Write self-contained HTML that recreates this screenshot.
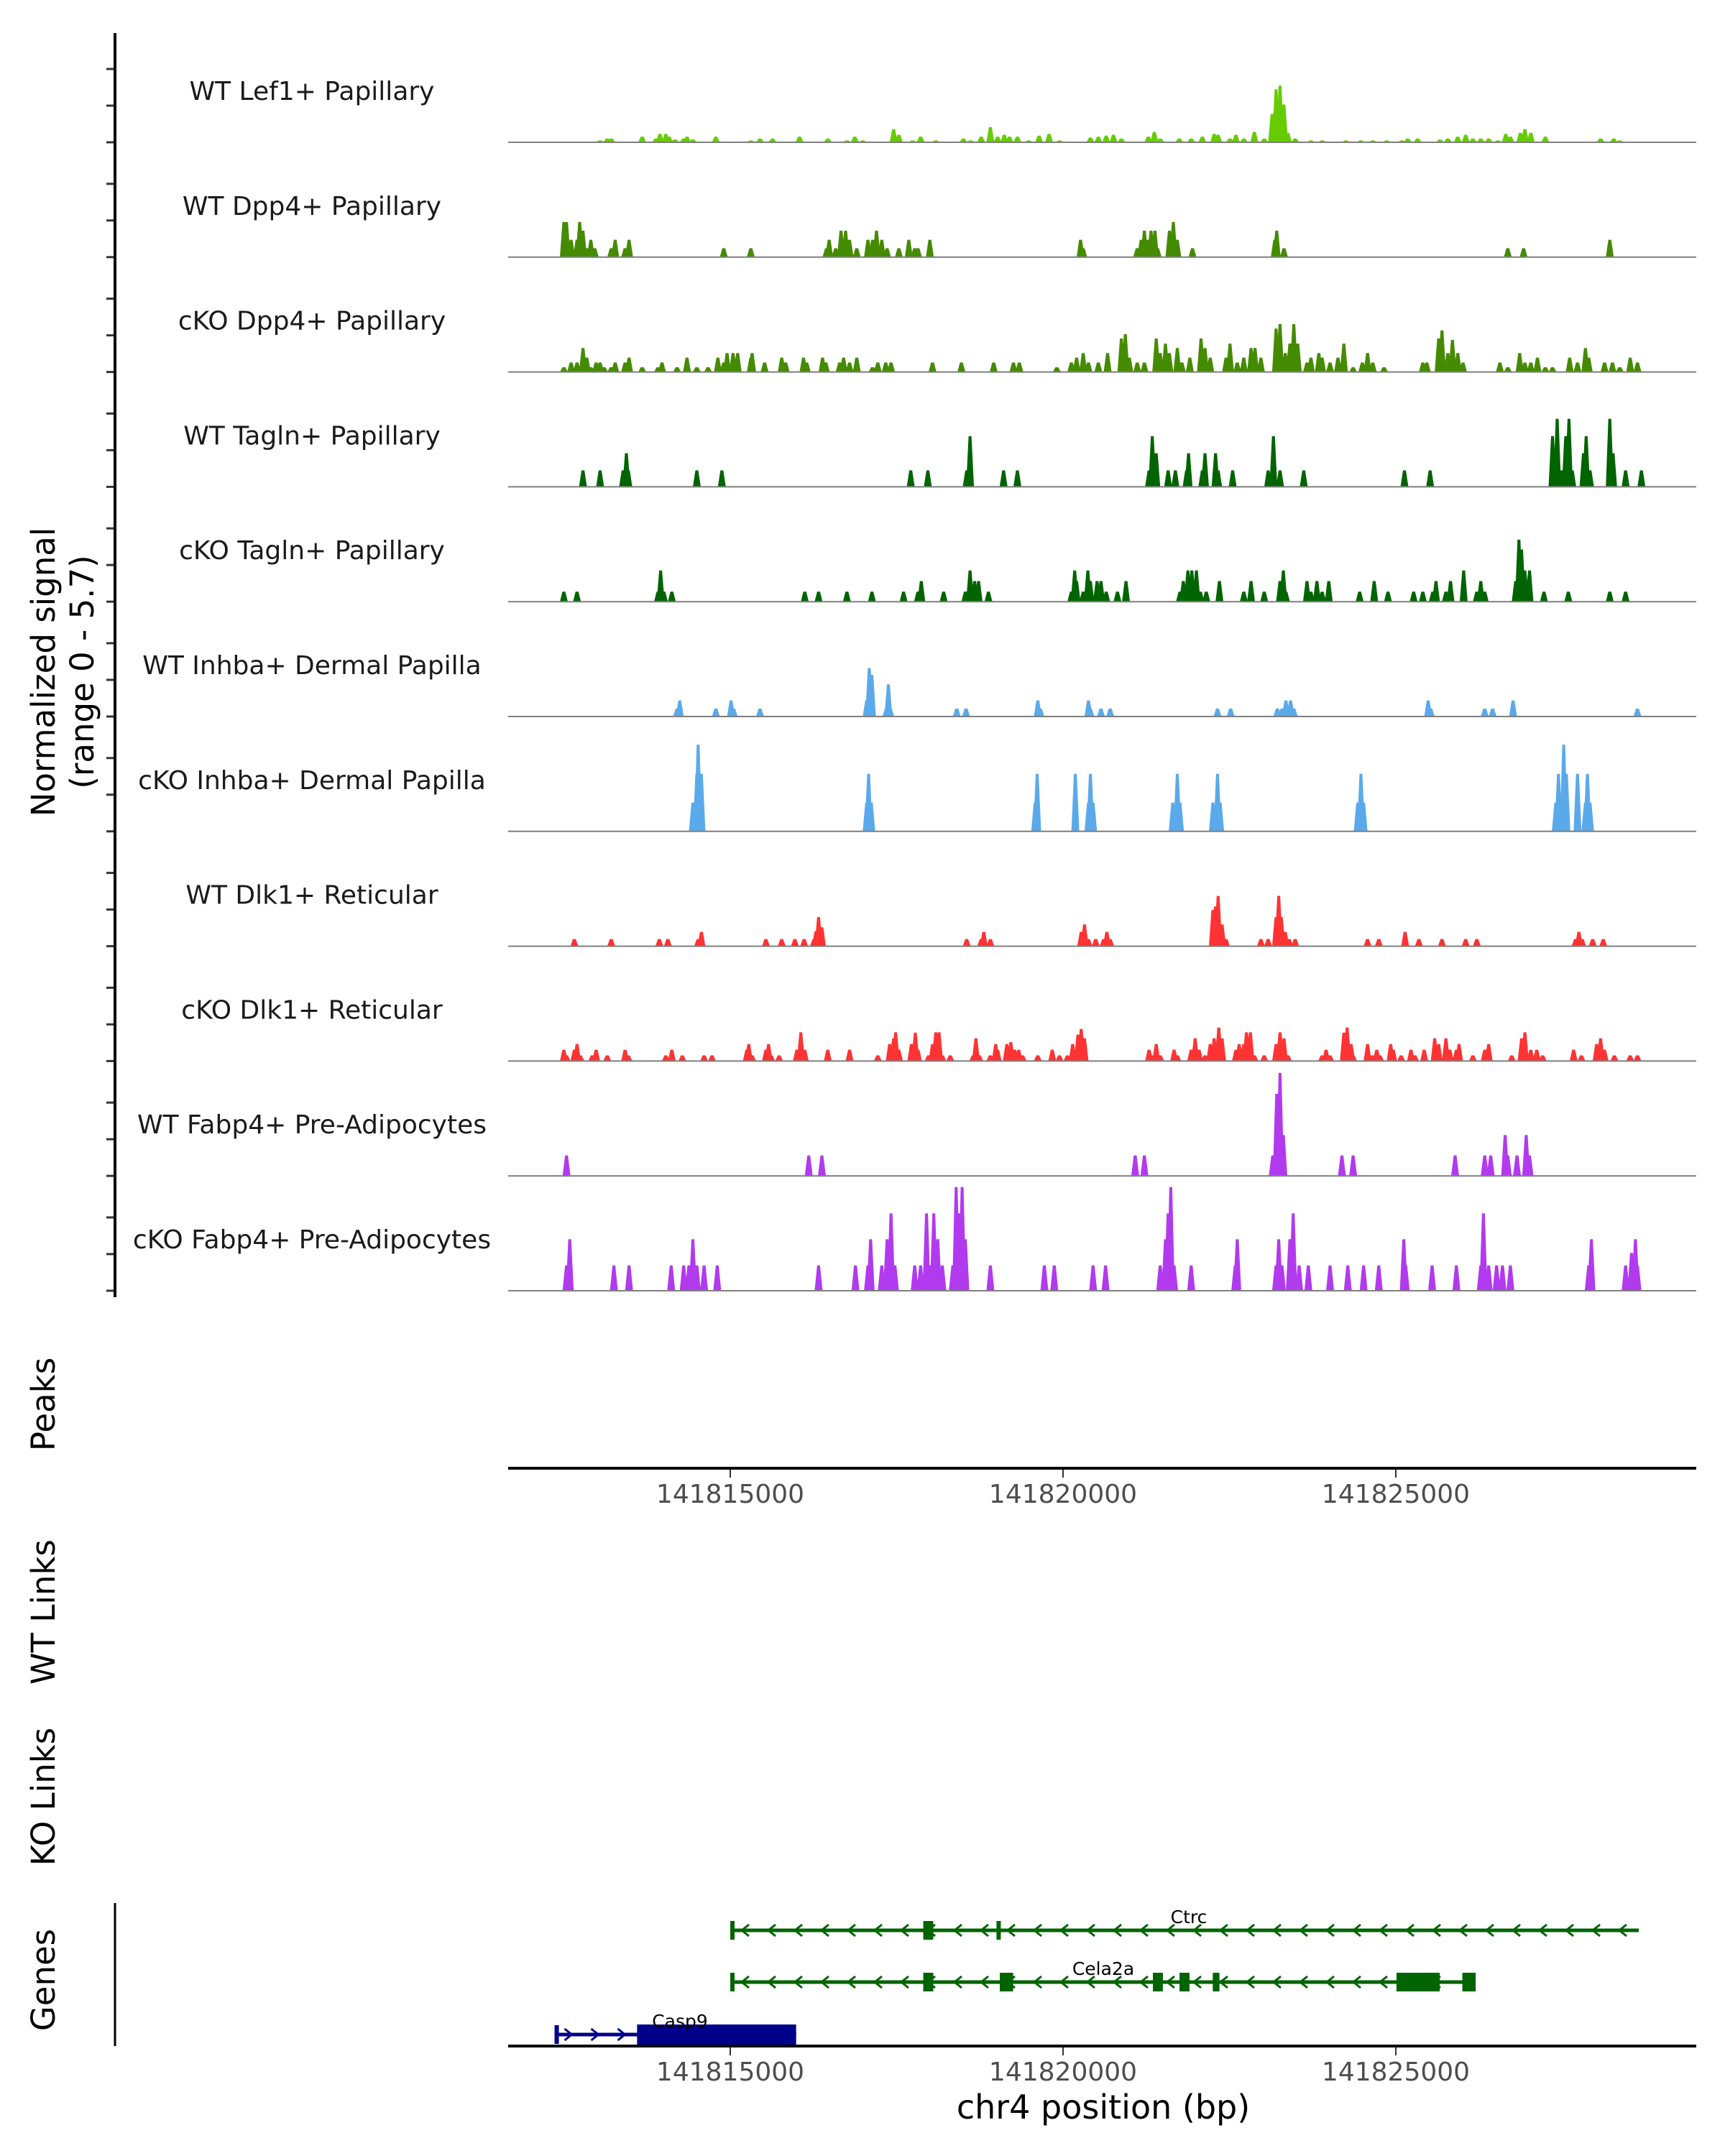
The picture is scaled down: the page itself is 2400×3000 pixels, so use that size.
<!DOCTYPE html>
<html><head><meta charset="utf-8"><style>
html,body{margin:0;padding:0;background:#fff;}
svg{display:block;font-family:"DejaVu Sans","Liberation Sans",sans-serif;}
</style></head><body>
<svg id="chart" width="2400" height="3000" viewBox="0 0 2400 3000" xmlns="http://www.w3.org/2000/svg">
<rect x="0" y="0" width="2400" height="3000" fill="#fff"/>
<g id="tracks"></g>
<g id="genes"></g>
<g id="axes"></g>
</svg>
<script>
// ---- data (positions as offsets from regionStart in units of bpPerUnit, values = normalized signal) ----
const regionStart = 141811590;
const bpPerUnit = 989;
const trackNames = ["WT Lef1+ Papillary","WT Dpp4+ Papillary","cKO Dpp4+ Papillary","WT Tagln+ Papillary","cKO Tagln+ Papillary","WT Inhba+ Dermal Papilla","cKO Inhba+ Dermal Papilla","WT Dlk1+ Reticular","cKO Dlk1+ Reticular","WT Fabp4+ Pre-Adipocytes","cKO Fabp4+ Pre-Adipocytes"];
const trackColors = ["#66cc00","#458b00","#458b00","#006400","#006400","#5aaaeb","#5aaaeb","#ff3333","#ff3333","#b23aee","#b23aee"];
const lef1Pos=[1.47,1.58,1.64,2.11,2.32,2.38,2.47,2.52,2.61,2.74,2.79,2.88,3.23,3.76,3.90,4.09,4.50,4.93,5.22,5.34,5.46,5.93,6.01,6.22,6.34,6.57,6.99,7.10,7.26,7.40,7.51,7.61,7.69,7.81,7.98,8.14,8.29,8.45,8.92,9.04,9.16,9.27,9.39,9.80,9.89,9.98,10.27,10.45,10.62,10.80,10.86,11.04,11.13,11.25,11.41,11.56,11.68,11.74,11.80,11.86,11.92,12.03,12.27,12.44,12.80,13.03,13.21,13.42,13.65,13.74,13.89,14.23,14.35,14.50,14.62,14.73,14.85,14.97,15.11,15.23,15.30,15.45,15.52,15.61,15.83,16.67,16.87,16.96];
const lef1Val=[.1,.2,.2,.3,.2,.45,.45,.3,.15,.2,.3,.15,.3,.1,.2,.2,.3,.2,.1,.3,.1,.7,.4,.1,.3,.1,.2,.1,.3,.8,.3,.4,.3,.3,.1,.35,.45,.1,.25,.3,.35,.4,.2,.3,.55,.2,.2,.2,.3,.45,.4,.2,.4,.2,.55,.2,1.5,2.8,3.0,2.0,.5,.2,.1,.1,.1,.1,.1,.1,.1,.2,.2,.15,.2,.3,.4,.2,.2,.2,.1,.45,.3,.5,.7,.5,.3,.2,.2,.1];
const wtDppPos=[0.92,0.96,1.03,1.12,1.16,1.21,1.27,1.33,1.39,1.64,1.70,1.85,1.91,3.35,3.76,4.91,4.95,5.05,5.13,5.20,5.26,5.37,5.54,5.61,5.67,5.75,5.83,6.01,6.16,6.25,6.30,6.48,8.77,8.81,9.63,9.69,9.74,9.80,9.84,9.90,9.94,10.12,10.18,10.24,10.47,11.72,11.75,11.86,15.26,15.50,16.81];
const wtDppVal=[1.86,1.86,.92,.92,1.86,1.4,.47,.92,.47,.47,.92,.47,.92,.47,.47,.47,.92,.47,1.4,1.4,.92,.47,.92,.92,1.4,.92,.47,.47,.92,.47,.47,.92,.92,.47,.47,.92,1.4,.92,1.4,1.4,.47,1.4,1.86,.92,.47,.92,1.4,.47,.47,.47,.92];
const koDppPos=[.92,1.03,1.12,1.21,1.27,1.33,1.41,1.47,1.53,1.64,1.70,1.85,1.91,2.11,2.35,2.41,2.64,2.79,2.94,3.11,3.26,3.35,3.40,3.49,3.56,3.76,3.78,3.97,4.23,4.29,4.56,4.61,4.85,4.90,5.11,5.17,5.26,5.37,5.61,5.69,5.81,5.89,6.52,6.96,7.45,7.75,7.84,8.41,8.63,8.71,8.81,8.89,9.04,9.18,9.39,9.45,9.51,9.63,9.74,9.92,9.98,10.06,10.12,10.24,10.31,10.43,10.60,10.66,10.74,10.98,11.04,11.15,11.25,11.36,11.42,11.51,11.74,11.80,11.88,11.95,12.01,12.07,12.21,12.27,12.39,12.44,12.56,12.68,12.77,12.91,13.05,13.13,13.21,13.38,13.97,14.03,14.21,14.26,14.35,14.42,14.50,14.58,15.14,15.26,15.44,15.52,15.61,15.71,15.83,15.94,16.20,16.32,16.44,16.49,16.73,16.85,16.96,17.12,17.23];
const koDppVal=[.25,.5,.5,1.27,.76,.25,.5,.5,.25,.25,.5,.5,.76,.25,.25,.5,.25,.76,.25,.25,.76,.5,1.0,1.0,1.0,.76,1.0,.5,.76,.5,.76,.5,.76,.5,.5,.76,.5,.76,.25,.5,.5,.5,.5,.5,.5,.5,.5,.25,.5,.76,1.0,.5,.5,1.0,1.77,2.0,.76,.5,.5,1.77,1.0,1.5,1.0,1.27,.5,.76,1.77,1.27,.76,.76,1.5,.5,.76,1.27,1.27,.76,2.3,2.53,1.0,1.5,2.53,1.5,.5,.76,1.0,.76,.5,.76,1.5,.25,.5,1.0,.5,.25,.5,.5,1.77,2.2,1.0,1.7,1.0,.5,.5,.25,1.0,.5,.5,.76,.25,.25,.76,.5,1.27,.76,.5,.5,.25,.76,.5];
const wtTagPos=[1.21,1.47,1.82,1.87,1.90,2.94,3.32,6.19,6.45,7.04,7.09,7.60,7.81,9.81,9.86,9.92,10.10,10.21,10.38,10.41,10.62,10.66,10.82,10.86,11.08,11.62,11.70,11.80,12.16,13.69,14.08,15.94,16.01,16.08,16.14,16.19,16.24,16.41,16.45,16.51,16.81,16.86,17.05,17.29];
const wtTagVal=[.87,.87,.87,1.78,.87,.87,.87,.87,.87,.87,2.68,.87,.87,.87,2.68,1.78,.87,.87,.87,1.78,.87,1.78,1.78,.87,.87,.87,2.68,.87,.87,.87,.87,2.68,3.6,.87,2.68,3.6,.87,1.78,2.68,.87,3.6,1.78,.87,.87];
const koTagPos=[.92,1.12,2.35,2.39,2.44,2.56,4.58,4.79,5.22,5.60,6.08,6.30,6.35,6.69,7.02,7.09,7.16,7.22,7.37,8.63,8.68,8.71,8.81,8.88,8.92,9.02,9.08,9.16,9.33,9.46,10.28,10.33,10.40,10.46,10.53,10.59,10.68,10.88,11.25,11.36,11.56,11.80,11.85,11.89,12.21,12.27,12.36,12.44,12.54,13.01,13.23,13.44,13.83,13.97,14.12,14.17,14.32,14.39,14.59,14.79,14.85,14.91,15.38,15.43,15.47,15.52,15.59,15.81,16.18,16.81,17.05];
const koTagVal=[.53,.53,.53,1.65,.53,.53,.53,.53,.53,.53,.53,.53,1.09,.53,.53,1.65,1.09,1.09,.53,.53,1.65,1.09,.53,1.65,1.09,1.09,1.09,.53,.53,1.09,.53,1.09,1.65,1.65,1.65,.53,.53,1.09,.53,1.09,.53,1.09,1.65,.53,1.09,.53,1.09,.53,1.09,.53,1.09,.53,.53,.53,.53,1.09,.53,1.09,1.65,.53,1.09,.53,1.09,3.28,2.76,1.65,1.65,.53,.53,.53,.53];
const wtInhPos=[2.64,2.68,3.23,3.46,3.50,3.90,5.52,5.56,5.60,5.82,5.85,5.88,6.89,7.03,8.12,8.16,8.89,8.92,9.08,9.22,10.85,11.05,11.76,11.83,11.89,11.96,12.01,14.05,14.09,14.91,15.03,15.34,17.23];
const wtInhVal=[.42,.85,.42,.85,.42,.42,.85,2.56,2.2,.42,1.7,.42,.42,.42,.85,.42,.85,.42,.42,.42,.42,.42,.42,.42,.85,.85,.42,.85,.42,.42,.42,.85,.42];
const koInhPos=[2.88,2.94,2.96,3.01,5.52,5.55,5.59,8.08,8.11,8.69,8.89,8.92,8.96,10.17,10.24,10.28,10.78,10.85,10.89,12.98,13.03,13.07,15.99,16.03,16.08,16.11,16.15,16.32,16.44,16.47,16.51];
const koInhVal=[1.52,3.04,4.58,3.04,1.52,3.04,1.52,1.52,3.04,3.04,1.52,3.04,1.52,1.52,3.04,1.52,1.52,3.04,1.52,1.52,3.04,1.52,1.52,3.04,1.52,4.58,3.04,3.04,1.52,3.04,1.52];
const wtDlkPos=[1.08,1.64,2.37,2.50,2.96,3.01,3.99,4.23,4.43,4.57,4.72,4.75,4.79,4.84,7.04,7.26,7.30,7.40,8.78,8.83,8.89,9.00,9.12,9.17,9.22,10.78,10.82,10.86,10.92,10.98,11.51,11.62,11.74,11.78,11.82,11.88,11.94,12.03,13.13,13.30,13.70,13.91,14.26,14.62,14.79,16.29,16.34,16.39,16.55,16.71];
const wtDlkVal=[.38,.38,.38,.38,.38,.76,.38,.38,.38,.38,.38,.8,1.54,1.0,.38,.38,.76,.38,.76,1.15,.38,.38,.38,.76,.38,1.92,2.1,2.66,1.15,.38,.38,.38,1.54,2.66,1.54,.76,.38,.38,.38,.38,.76,.38,.38,.38,.38,.38,.76,.38,.38,.38];
const koDlkPos=[.92,.96,1.08,1.12,1.17,1.35,1.41,1.58,1.85,1.90,2.47,2.56,2.72,3.05,3.17,3.70,3.73,3.78,3.99,4.03,4.07,4.19,4.46,4.52,4.58,4.93,5.26,5.69,5.87,5.93,5.96,6.01,6.20,6.26,6.30,6.46,6.52,6.57,6.62,6.67,6.79,7.14,7.18,7.23,7.40,7.48,7.51,7.65,7.71,7.77,7.83,7.89,8.12,8.34,8.45,8.57,8.65,8.73,8.78,8.83,9.81,9.86,9.92,9.98,10.19,10.24,10.45,10.51,10.57,10.66,10.74,10.80,10.87,10.92,11.13,11.18,11.25,11.29,11.35,11.41,11.56,11.74,11.80,11.86,11.92,12.44,12.50,12.56,12.77,12.82,12.88,12.91,13.13,13.21,13.27,13.32,13.48,13.52,13.64,13.79,13.85,13.99,14.15,14.21,14.32,14.38,14.48,14.52,14.73,14.91,14.97,15.32,15.47,15.52,15.61,15.70,15.79,16.26,16.38,16.61,16.67,16.73,16.88,17.12,17.23];
const koDlkVal=[.6,.3,.6,.9,.3,.3,.6,.3,.6,.3,.3,.6,.3,.3,.3,.6,.9,.3,.6,.9,.3,.3,.6,1.52,.6,.6,.6,.3,.9,1.2,1.52,.6,.9,1.5,.6,.3,.9,1.52,1.52,.3,.3,.3,1.2,.3,.3,.9,.6,.9,1.0,.6,.6,.3,.3,.6,.3,.3,.9,1.4,1.7,1.2,.6,.3,.9,.3,.6,.3,.6,1.2,.6,.3,.9,1.2,1.77,1.2,.6,.9,.9,1.52,1.52,.3,.3,.9,1.52,1.2,.3,.3,.6,.3,1.5,1.77,.9,.3,.9,.3,.6,.3,.9,.6,.3,.6,.3,.6,1.2,.9,1.2,.6,.6,.9,.3,.6,.9,.3,1.2,1.52,.6,.6,.3,.6,.3,.9,1.2,.6,.3,.3,.3];
const wtFabPos=[.96,4.64,4.84,9.60,9.74,11.69,11.75,11.80,11.85,12.74,12.91,14.46,14.91,15.00,15.22,15.26,15.40,15.54,15.59];
const wtFabVal=[1.08,1.08,1.08,1.08,1.08,1.08,4.34,5.44,2.16,1.08,1.08,1.08,1.08,1.08,2.16,1.08,1.08,2.16,1.08];
const koFabPos=[.96,1.01,1.68,1.91,2.55,2.74,2.82,2.88,2.94,3.05,3.25,4.79,5.35,5.54,5.58,5.75,5.83,5.89,5.95,6.25,6.34,6.43,6.48,6.54,6.60,6.67,6.83,6.88,6.93,6.97,7.02,7.40,8.22,8.37,8.96,9.15,9.98,10.06,10.10,10.14,10.19,10.45,11.12,11.15,11.74,11.78,11.83,11.95,12.00,12.09,12.23,12.56,12.83,13.07,13.30,13.68,13.71,14.11,14.48,14.85,14.89,14.97,15.09,15.18,15.30,16.49,16.53,17.05,17.14,17.20,17.23];
const koFabVal=[1.34,2.72,1.34,1.34,1.34,1.34,1.34,2.72,1.34,1.34,1.34,1.34,1.34,1.34,2.72,1.34,2.72,4.09,1.34,1.34,1.34,4.09,1.34,4.09,2.72,1.34,1.34,5.48,4.09,5.48,2.72,1.34,1.34,1.34,1.34,1.34,1.34,2.72,4.09,5.48,1.34,1.34,1.34,2.72,1.34,2.72,1.34,2.72,4.09,1.34,1.34,1.34,1.34,1.34,1.34,2.72,1.34,1.34,1.34,1.34,4.09,1.34,1.34,1.34,1.34,1.34,2.72,1.34,2.0,2.72,1.34];
const trackPos=[lef1Pos,wtDppPos,koDppPos,wtTagPos,koTagPos,wtInhPos,koInhPos,wtDlkPos,koDlkPos,wtFabPos,koFabPos];
const trackVal=[lef1Val,wtDppVal,koDppVal,wtTagVal,koTagVal,wtInhVal,koInhVal,wtDlkVal,koDlkVal,wtFabVal,koFabVal];
const xTicks=[141815000,141820000,141825000];
const xTickLabels=["141815000","141820000","141825000"];
const geneNames=["Ctrc","Cela2a","Casp9"];
const geneStart=[141815000,141815000,141812360];
const geneEnd=[141828650,141826050,141815990];
const geneStrand=[-1,-1,1];
const geneExonStart=[[141815000,141817900,141819000],[141815000,141817900,141819050,141821350,141821750,141822250,141825010,141826000],[141812360]];
const geneExonEnd=[[141815050,141818050,141819050],[141815050,141818050,141819250,141821500,141821900,141822350,141825660,141826200],[141812410]];
const geneCdsStart=[[],[],[141813600]];
const geneCdsEnd=[[],[],[141815990]];

// ---- scales ----
const NS="http://www.w3.org/2000/svg";
const pxPerBp=0.0926, xLeft=707, xRight=2360, bpLeft=141811663;
function xScale(bp){return xLeft+(bp-bpLeft)*pxPerBp;}
function kbX(u){return xScale(regionStart+u*bpPerUnit);}
const yMax=5.7, trackH=150;
function baselineY(i){return 198+i*159.8;}
function yScale(i,v){return baselineY(i)-v/yMax*trackH;}
function mk(tag,attrs,parent){const e=document.createElementNS(NS,tag);for(const k in attrs)e.setAttribute(k,attrs[k]);parent.appendChild(e);return e;}

const tg=document.getElementById('tracks');
const ax=document.getElementById('axes');
const gg=document.getElementById('genes');

for(let i=0;i<trackNames.length;i++){
  const g=mk('g',{},tg);
  
  
  const b=baselineY(i);
  const lbl=mk('text',{x:434,y:b-59,'text-anchor':'middle','font-size':36,fill:'#1a1a1a'},g);
  lbl.textContent=trackNames[i];
  
  
  const pos=trackPos[i], val=trackVal[i];
  let d='';
  for(let j=0;j<pos.length;j++){
    const cx=kbX(pos[j]), top=yScale(i,val[j]);
    d+=`M${(cx-5.5).toFixed(1)},${b}L${(cx-2).toFixed(1)},${top.toFixed(1)}L${(cx+2).toFixed(1)},${top.toFixed(1)}L${(cx+5.5).toFixed(1)},${b}Z`;
  }
  const p=mk('path',{d:d,fill:trackColors[i]},g);
  
  
  const bl=mk('line',{x1:xLeft,x2:xRight,y1:b,y2:b,stroke:'#7f7f7f','stroke-width':2},g);
  
  
  for(let t=0;t<3;t++){
    const ty=b-t*51;
    const tk=mk('line',{x1:148,x2:160,y1:ty,y2:ty,stroke:'#333','stroke-width':3},ax);
    
    
  }
}
let e=mk('line',{x1:160,x2:160,y1:46,y2:1805,stroke:'#000','stroke-width':4},ax);


function vtext(txt,x,y,size,name){
  const t=mk('text',{x:x,y:y,'text-anchor':'middle','font-size':size,fill:'#000',transform:`rotate(-90 ${x} ${y})`,'dominant-baseline':'middle'},ax);
  t.textContent=txt;
  
  
}
vtext('Normalized signal',64,935,45,'y-axis-title');
vtext('(range 0 - 5.7)',118,935,45,'y-axis-subtitle');
vtext('Peaks',64,1954,45,'peaks-label');
vtext('WT Links',64,2243,45,'wt-links-label');
vtext('KO Links',64,2500,45,'ko-links-label');
vtext('Genes',64,2755,45,'genes-label');

function xAxis(y,name){
  const a=mk('line',{x1:xLeft,x2:xRight,y1:y,y2:y,stroke:'#000','stroke-width':4},ax);
  
  
  for(let k=0;k<xTicks.length;k++){
    const x=xScale(xTicks[k]);
    const t=mk('line',{x1:x,x2:x,y1:y+2,y2:y+13,stroke:'#333','stroke-width':2},ax);
    
    
    const l=mk('text',{x:x,y:y+48,'text-anchor':'middle','font-size':36,fill:'#4d4d4d'},ax);
    l.textContent=xTickLabels[k];
    
    
  }
}
xAxis(2043,'peaks-x-axis');
xAxis(2847,'genes-x-axis');
e=mk('text',{x:1535,y:2948,'text-anchor':'middle','font-size':46,fill:'#000'},ax);
e.textContent='chr4 position (bp)';


e=mk('line',{x1:160,x2:160,y1:2648,y2:2847,stroke:'#000','stroke-width':3},ax);



const geneY=[2686,2758,2831];
const geneCol=["#006400","#006400","#00008b"];
const geneLabelX=[1654,1535,946];
for(let k=0;k<geneNames.length;k++){
  const g=mk('g',{},gg);
  
  
  const y=geneY[k], c=geneCol[k], x1=xScale(geneStart[k]), x2=xScale(geneEnd[k]);
  mk('line',{x1:x1,x2:x2,y1:y,y2:y,stroke:c,'stroke-width':5},g);
  let d='';
  for(let x=x1+20;x<x2-10;x+=37){
    if(geneStrand[k]<0) d+=`M${x+6},${y-8}L${x-4},${y}L${x+6},${y+8}`;
    else d+=`M${x-6},${y-8}L${x+4},${y}L${x-6},${y+8}`;
  }
  mk('path',{d:d,stroke:c,'stroke-width':3,fill:'none'},g);
  for(let m=0;m<geneExonStart[k].length;m++){
    const ex=xScale(geneExonStart[k][m]), ew=Math.max(6,xScale(geneExonEnd[k][m])-ex);
    mk('rect',{x:ex,y:y-13,width:ew,height:26,fill:c},g);
  }
  for(let m=0;m<geneCdsStart[k].length;m++){
    const ex=xScale(geneCdsStart[k][m]), ew=xScale(geneCdsEnd[k][m])-ex;
    mk('rect',{x:ex,y:y-14,width:ew,height:28,fill:c},g);
  }
  const t=mk('text',{x:geneLabelX[k],y:y-10,'text-anchor':'middle','font-size':25,fill:'#000'},g);
  t.textContent=geneNames[k];
  
  
}
</script>
</body></html>
